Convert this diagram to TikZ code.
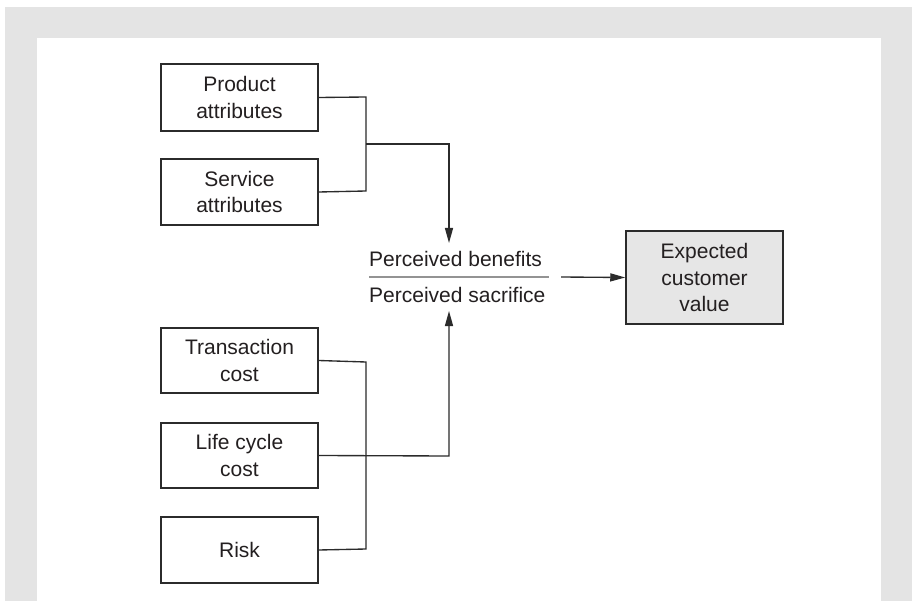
\documentclass[tikz,border=0pt]{standalone}
\usepackage{fontspec}
\setmainfont{Liberation Sans}
\usetikzlibrary{arrows.meta}
\definecolor{panelgray}{HTML}{E4E4E4}
\definecolor{inkc}{HTML}{231F20}
\definecolor{linec}{HTML}{2B2B2B}
\definecolor{valuefill}{HTML}{E6E6E6}
\begin{document}
\begin{tikzpicture}[x=1pt,y=-1pt,
  txt/.style={font=\fontsize{21}{26.5}\selectfont, text=inkc},
  factor/.style={txt, draw=linec, line width=1.5pt, minimum width=157pt,
    minimum height=66pt, align=center, inner sep=0pt},
  link/.style={draw=linec, line width=1.35pt},
  arr/.style={link, -{Triangle[length=15pt,width=8pt]}}]
  \useasboundingbox (0,0) rectangle (912,601);
  % frame
  \fill[panelgray] (5,7) rectangle (912,601);
  \fill[white] (37,38) rectangle (881,601);

  % benefit factors
  \node[factor, minimum height=67pt] (prod) at (239.5,97.5) {Product\\attributes};
  \node[factor] (serv) at (239.5,192) {Service\\attributes};
  % sacrifice factors
  \node[factor, minimum height=65pt] (trans) at (239.5,360.5) {Transaction\\cost};
  \node[factor, minimum height=65pt] (life) at (239.5,455.5) {Life cycle\\cost};
  \node[factor] (risk) at (239.5,550) {Risk};

  % ratio of benefits to sacrifice
  \node[txt, anchor=base west, inner sep=0pt] (ben) at (369,267) {Perceived benefits};
  \node[txt, anchor=base west, inner sep=0pt] (sac) at (369,302) {Perceived sacrifice};
  \draw[draw=gray!85, line width=1.4pt] (369,277) -- (549,277);
  \coordinate (bentop) at (449,243);
  \coordinate (sacbot) at (449,311);
  \coordinate (ratio) at (561,277);

  % outcome
  \node[factor, fill=valuefill, minimum height=93pt] (value) at (704.5,277.5)
    {Expected\\customer\\value};

  % connectors
  \draw[link] (prod.east) -- (366,97) -- (366,191) -- (serv.east);
  \coordinate (bj) at (366,144);
  \draw[arr] (bj) -- (449,144) -- (bentop);
  \draw[link] (trans.east) -- (366,362) -- (366,549) -- (risk.east);
  \draw[arr] (life.east) -- (449,456) -- (sacbot);
  \draw[arr] (ratio) -- (value.west);
\end{tikzpicture}
\end{document}
